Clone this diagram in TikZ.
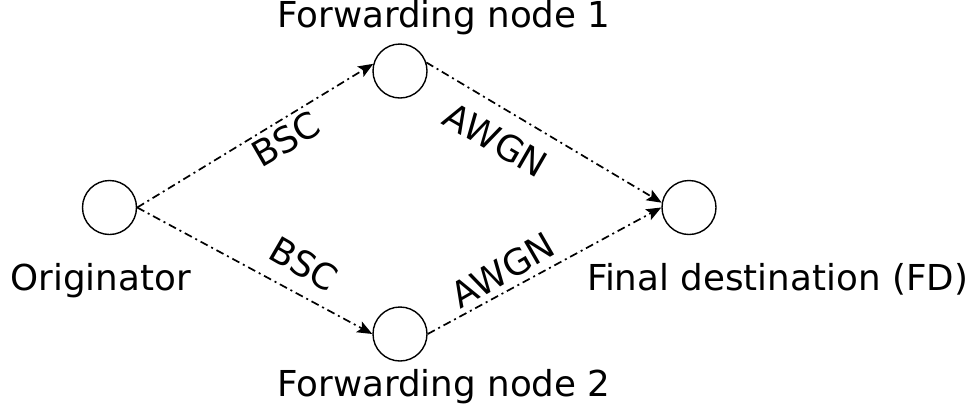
\documentclass[tikz,border=0pt]{standalone}
\usepackage{fontspec}
\setmainfont{DejaVu Sans}
\usetikzlibrary{arrows.meta}
\begin{document}
\begin{tikzpicture}[x=1pt,y=-1pt,
  station/.style={draw, circle, minimum size=54pt, inner sep=0pt, line width=1.4pt},
  caption/.style={inner sep=0pt, anchor=base, font=\fontsize{35.7}{40}\selectfont},
  chan/.style={inner sep=0pt, font=\fontsize{35.7}{40}\selectfont},
  link/.style={line width=1.7pt, dash pattern=on 8pt off 4pt on 2pt off 4pt,
               -{Stealth[length=15pt,width=12pt,inset=3pt]}}]
  \useasboundingbox (0,0) rectangle (976,408);

  % stations
  \node[station] (O)   at (109.5,207.5) {};
  \node[station] (FN1) at (400,71) {};
  \node[station] (FN2) at (400,334) {};
  \node[station] (FD)  at (689,207.5) {};

  % station captions
  \node[caption] (tO)   at (100.5,290) {Originator};
  \node[caption] (tFD)  at (777.5,290) {Final destination (FD)};
  \node[caption] (tFN1) at (444,27) {Forwarding node 1};
  \node[caption] (tFN2) at (444,396) {Forwarding node 2};

  % channels
  \draw[link] (O.east) -- (FN1.165);
  \draw[link] (O.east) -- (FN2.west);
  \draw[link] (FN1.18) -- (FD.170);
  \draw[link] (FN2.east) -- (FD.west);

  % channel labels
  \node[chan, rotate=30]  (c1) at (286,139) {BSC};
  \node[chan, rotate=-30] (c2) at (496,140) {AWGN};
  \node[chan, rotate=-30] (c3) at (304,264) {BSC};
  \node[chan, rotate=30]  (c4) at (503,270) {AWGN};
\end{tikzpicture}
\end{document}
